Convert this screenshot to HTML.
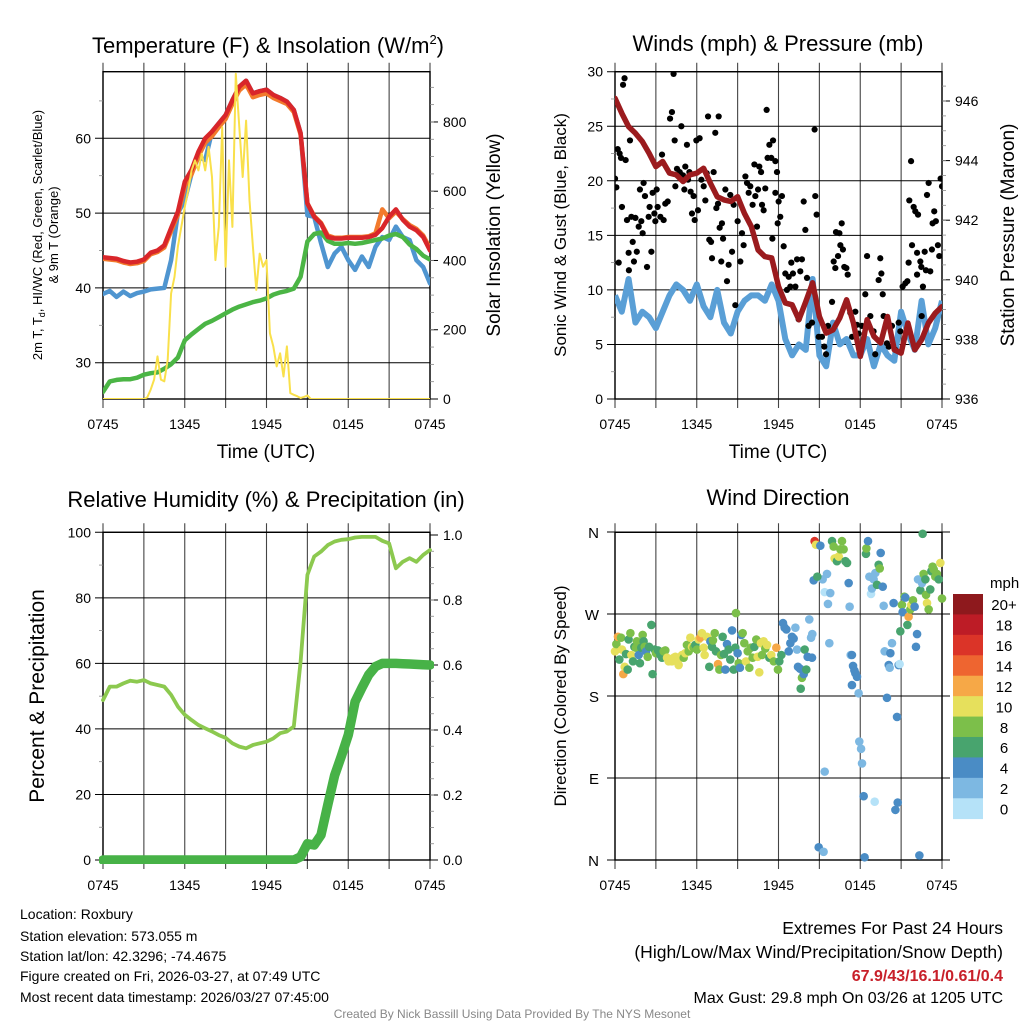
<!DOCTYPE html>
<html><head><meta charset="utf-8"><style>
html,body{margin:0;padding:0;background:#fff;}
svg{display:block;font-family:"Liberation Sans",Arial,sans-serif;}
</style></head><body>
<svg id="root" width="1024" height="1024" viewBox="0 0 1024 1024" xmlns="http://www.w3.org/2000/svg">
<rect width="1024" height="1024" fill="#fff"/>
<defs>
<clipPath id="c1"><rect x="103" y="71.7" width="327" height="327.3"/></clipPath>
<clipPath id="c2"><rect x="615" y="71.7" width="327" height="327.3"/></clipPath>
<clipPath id="c3"><rect x="99" y="528" width="335" height="336"/></clipPath>
<clipPath id="c4"><rect x="609" y="526" width="339" height="340"/></clipPath>
</defs>
<text x="268" y="53" font-size="22" text-anchor="middle">Temperature (F) &amp; Insolation (W/m<tspan font-size="13" dy="-9">2</tspan><tspan dy="9">)</tspan></text>
<text x="778" y="51" font-size="22" text-anchor="middle">Winds (mph) &amp; Pressure (mb)</text>
<text x="266" y="507" font-size="22" text-anchor="middle">Relative Humidity (%) &amp; Precipitation (in)</text>
<text x="778" y="505" font-size="22" text-anchor="middle">Wind Direction</text>

<text x="266" y="458" font-size="19" text-anchor="middle">Time (UTC)</text>
<text x="778" y="458" font-size="19" text-anchor="middle">Time (UTC)</text>
<text transform="translate(42,235) rotate(-90)" font-size="13" text-anchor="middle">2m T, T<tspan font-size="9" dy="3">d</tspan><tspan dy="-3">, HI/WC (Red, Green, Scarlet/Blue)</tspan></text>
<text transform="translate(58,235) rotate(-90)" font-size="13" text-anchor="middle">&amp; 9m T (Orange)</text>
<text transform="translate(500,235) rotate(-90)" font-size="19" text-anchor="middle">Solar Insolation (Yellow)</text>
<text transform="translate(566,235) rotate(-90)" font-size="17" text-anchor="middle">Sonic Wind &amp; Gust (Blue, Black)</text>
<text transform="translate(1014,235) rotate(-90)" font-size="19" text-anchor="middle">Station Pressure (Maroon)</text>
<text transform="translate(44,696) rotate(-90)" font-size="21" text-anchor="middle">Percent &amp; Precipitation</text>
<text transform="translate(566,696) rotate(-90)" font-size="17" text-anchor="middle">Direction (Colored By Speed)</text>

<g font-size="14">
<text x="20" y="919">Location: Roxbury</text>
<text x="20" y="941">Station elevation: 573.055 m</text>
<text x="20" y="961">Station lat/lon: 42.3296; -74.4675</text>
<text x="20" y="981">Figure created on Fri, 2026-03-27, at 07:49 UTC</text>
<text x="20" y="1002">Most recent data timestamp: 2026/03/27 07:45:00</text>
</g>
<g font-size="17.5" text-anchor="end">
<text x="1003" y="934">Extremes For Past 24 Hours</text>
<text x="1003" y="958">(High/Low/Max Wind/Precipitation/Snow Depth)</text>
<text x="1003" y="981" fill="#c8202a" font-weight="bold" font-size="16">67.9/43/16.1/0.61/0.4</text>
<text x="1003" y="1003" font-size="16">Max Gust: 29.8 mph On 03/26 at 1205 UTC</text>
</g>
<text x="512" y="1018" font-size="12" fill="#888" text-anchor="middle">Created By Nick Bassill Using Data Provided By The NYS Mesonet</text>
</svg>
<script>
// ---- data (half-hourly, hours since 0745 UTC) ----
const timeLabels=["0745","1345","1945","0145","0745"];
const temp2m=[44.1,44,43.9,43.6,43.4,43.5,43.8,44.7,45,45.7,48,50.2,54.2,55.8,58.2,60,60.9,62,63.1,65.1,66.9,67.7,66,66.3,66.5,65.8,65.4,64.9,63.8,60.7,51.3,49.5,48.6,46.8,46.6,46.6,46.7,46.7,46.7,46.8,47.1,48,49.5,50.5,49.1,48.2,47.7,46.8,45];
const temp9m=[43.9,43.8,43.7,43.4,43.2,43.3,43.6,44.5,44.8,45.4,47.6,49.8,53.6,55.2,57.6,59.4,60.3,61.5,62.6,64.6,66.4,67.2,65.5,65.8,66,65.4,65,64.6,63.5,60.5,51.3,49.6,48.7,47,46.7,46.7,46.8,46.8,46.8,46.9,47.3,50.5,49.3,50.2,49.2,48.4,47.9,47,45.3];
const windChill=[39.2,39.6,38.8,39.5,38.9,39.3,39.5,39.8,39.9,40,43.7,50,51.7,55.3,57.5,57.1,60.9,62,63.1,65.1,66.9,67.7,66,66.3,66.5,65.8,65.4,64.9,63.8,60.7,49.7,49.5,46,42.8,44.6,45.5,43.7,42.4,44.2,42.8,45.5,46.8,46.4,48.2,46.8,46.4,43.7,42.8,40.6];
const dewpoint=[26.1,27.5,27.7,27.8,27.8,28,28.4,28.6,28.7,29.2,29.8,30.7,33,33.8,34.5,35.2,35.6,36.1,36.6,37.1,37.5,37.8,38.1,38.3,38.6,39.1,39.4,39.6,39.9,41.5,46.2,47.2,47.4,46.3,45.9,45.9,46,45.9,46,46.2,46.4,46.6,47,47.2,46.8,45.8,45.2,44.3,43.8];
// solar, quarter-hourly
const solar=[0,0,0,0,0,0,0,0,0,0,0,0,0,5,27,56,123,56,51,113,305,353,440,497,555,603,660,689,660,708,660,728,641,401,497,785,382,689,497,939,785,641,804,574,440,315,420,382,401,190,152,94,132,65,152,17,12,8,3,6,10,0,0,0,0,0,0,0,0,0,0,0,0,0,0,0,0,0,0,0,0,0,0,0,0,0,0,0,0,0,0,0,0,0,0,0,0];
const pressure=[946.09,945.59,945.14,944.92,944.64,944.25,943.8,943.97,943.58,943.52,943.3,943.52,943.58,943.74,943.24,942.79,942.68,942.63,942.79,942.23,941.79,941,940.78,940.73,939.78,939.22,939.16,938.66,939.27,939.9,938.77,938.21,938.32,938.72,939.33,938.55,937.43,938.66,938.1,937.88,938.77,937.65,937.54,938.55,937.65,937.99,938.55,938.88,939.1];
const windSpeed=[9.5,8,11,7,8,7.5,6.5,8,9.5,10.5,10,9,10.5,8.5,7.5,10,7,6,8,9,9.5,9.5,9,10.5,9,5.5,4,5,4.5,11,4,3,7,5,5.5,4,4,5.5,3,5,4,3.5,8,6,4.5,9,5,6.5,9];
const gustTime=[0,0.1,0.2,0.34,0.44,0.59,0.7,0.78,0.27,0.51,0.88,1,1.1,1.02,1.2,1.3,1.39,1.5,1.6,1.74,1.83,1.93,2.03,2.1,2.2,2.35,2.47,2.54,2.67,2.76,2.89,2.96,3.06,3.13,3.33,3.45,3.57,3.69,3.87,4.04,4.18,4.3,4.38,4.43,4.55,4.75,4.87,4.99,5.09,5.16,5.28,5.36,5.46,5.55,5.65,5.77,5.85,5.97,6.09,6.21,6.34,6.51,6.63,6.73,6.83,6.92,7.05,7.12,7.24,7.36,7.44,7.56,7.61,7.68,7.8,7.85,7.93,8.1,8.22,8.34,8.46,8.59,8.71,8.83,9,9.2,9.32,9.44,9.57,9.69,9.81,9.93,10.1,10.23,10.3,10.42,10.5,10.59,10.72,10.79,10.91,11.03,11.13,11.2,11.33,11.47,11.6,11.77,11.89,11.77,11.55,11.94,12.01,12.13,12.25,12.38,12.5,12.62,12.75,12.87,12.94,13.06,13.24,13.36,13.48,13.6,13.72,13.85,13.97,14.09,14.21,14.46,14.65,14.7,14.8,14.95,15.19,15.36,15.49,15.63,15.93,16.05,16.17,16.22,16.37,16.47,16.54,16.64,16.73,16.83,16.98,17.08,17.27,17.4,17.64,17.76,17.88,18.12,18.37,18.5,18.74,18.98,19.1,19.35,19.47,19.55,19.65,19.72,19.96,20.09,20.33,20.58,20.82,20.94,21.11,21.31,21.46,21.55,21.6,21.73,21.8,21.92,22.04,22.17,22.24,22.17,22.41,22.48,22.6,22.73,22.82,22.9,23.02,23.14,23.26,23.31,23.43,23.55,23.7,23.8,23.9,24,22.51];
const gustSpeed=[20.2,19.4,22.9,22.5,22.1,28.8,29.4,21.9,12.5,17.6,16.4,13.4,23.7,11.8,16.7,14.4,12.6,16.6,13.5,15.8,19.2,16.3,15.2,19.8,18.6,12.1,16.7,17.6,13.5,18.9,17,16.3,19.2,17.6,16.7,22.4,16.4,17.9,18.1,25.7,26.3,29.8,23.7,19.5,21.1,20.8,25,20.5,19.2,21.3,23.3,20.1,20.8,19,17,18.6,16.4,23.7,17.3,23.9,20.1,19.5,18.2,20.7,25.9,14.6,14.4,12.9,20.8,24.4,17.5,17.9,25.9,15.7,12.6,16.1,14.7,19.2,10.8,12.3,18.7,13.5,17.8,8.6,16.3,12.6,15.2,14.1,20.4,19.8,18.9,19.5,17.8,21.5,18.6,15.8,19.2,21.3,20.8,17.8,17.3,19.3,26.5,22.1,23.3,22.1,23.7,21.8,20.8,18.9,14.7,16.1,18.1,16.7,18.6,14,11.5,10,11.2,10.3,12.5,11.5,10.3,12.8,7.3,11.7,12.8,18.1,15.5,11.1,6.7,7,24.7,18.6,16.9,5.7,5.7,4.8,4.1,6.7,8.9,12.6,12,15.3,13.1,15.2,14.1,16.1,13.7,12.1,12,11.4,7.9,5.7,8,6.8,6,6.7,9.6,13.1,7.6,6.2,4.1,10.9,12.9,11.5,9.6,7.6,5.1,4.8,6.7,4.5,7,6.2,10.3,10.6,10.8,12.5,18.2,21.8,14.1,17.6,17.2,11.4,16.9,13.4,12.6,12.1,10.3,13.5,11.8,18.7,19.8,11.7,13.7,16.1,17.2,16.3,14.1,13.1,20.2,19.5,7.6];
const humidity=[48.8,52.9,52.9,53.9,54.7,54.4,54.9,53.9,53.4,52.9,50.4,46.8,44.3,42.7,41.2,40.2,39.2,38.1,37.3,35.6,34.6,34.1,35.1,35.6,36.1,37.1,38.7,39.2,40.7,60.5,87,92.6,94.1,96.1,97.2,97.7,97.9,98.4,98.6,98.6,98.6,97.4,96.6,89,91,92.1,91,93.1,94.6];
const precip=[0,0,0,0,0,0,0,0,0,0,0,0,0,0,0,0,0,0,0,0,0,0,0,0,0,0,0,0,0,0.01,0.05,0.046,0.077,0.17,0.26,0.32,0.385,0.487,0.53,0.57,0.595,0.605,0.605,0.605,0.604,0.603,0.602,0.601,0.6];
const dirTime=[0,0.1,0.22,0.32,0.44,0.51,0.61,0.71,0.81,0.93,1,1.13,1.2,1.32,1.42,1.54,1.61,1.74,1.83,1.93,2.03,2.1,2.18,2.28,2.4,2.5,2.67,2.76,2.91,3.01,3.16,3.33,3.45,3.57,3.69,3.82,3.94,4.06,4.18,4.31,4.43,4.55,4.67,4.8,4.92,5.04,5.16,5.28,5.41,5.53,5.65,5.77,5.9,6.02,6.14,6.26,6.38,6.51,6.58,6.75,6.92,7,7.12,7.19,7.32,7.41,7.56,7.66,7.78,7.9,8,8.1,8.22,8.34,8.46,8.59,8.71,8.83,8.88,9,9.08,9.17,9.27,9.37,9.49,9.61,9.74,9.86,9.98,10.1,10.23,10.37,10.47,10.59,10.71,10.79,10.91,11.03,11.16,11.33,11.47,11.65,11.84,11.96,12.06,12.21,12.33,12.45,12.58,12.75,12.87,12.99,13.11,13.24,13.36,13.43,13.58,13.63,13.72,13.85,13.92,14.04,14.14,14.26,14.39,14.48,14.46,14.58,14.65,14.75,15.07,15.24,15.39,15.56,15.63,15.8,15.73,15.93,16.05,16.12,16.29,16.42,16.54,16.66,16.78,16.91,17.03,17.15,17.22,17.3,17.39,17.47,17.57,17.64,17.76,17.39,17.88,17.93,18.06,18.13,18.25,18.32,18.42,18.45,18.57,18.67,18.79,18.86,18.98,19.11,19.23,19.35,19.43,19.5,19.65,19.72,19.79,19.96,20.09,20.16,20.21,20.33,20.45,20.7,20.82,20.89,20.58,20.75,20.94,21.06,21.11,21.24,21.31,21.46,21.55,21.68,21.75,21.87,21.99,22.09,22.17,22.24,22.34,22.41,22.53,22.58,22.65,22.78,22.83,22.9,23.02,23.14,23.22,23.31,23.39,23.51,23.63,23.76,23.88,24,14.85,14.95,15.31,15.39,19.06];
const dirDeg=[229,237,245,220,244,231,204,212,226,209,242,249,225,218,234,233,240,225,216,233,247,240,234,229,223,234,258,204,231,227,230,225,222,229,230,222,218,220,218,222,223,218,214,222,225,222,227,236,229,244,234,233,236,231,242,244,249,233,225,245,212,240,234,241,249,229,215,209,225,245,226,209,237,231,220,252,209,233,271,227,216,211,247,249,238,218,229,211,233,222,234,242,223,206,238,225,240,232,236,222,225,218,233,209,218,225,260,255,253,229,238,245,243,255,231,212,210,188,200,204,231,209,223,264,244,248,222,307,350,346,345,308,294,314,281,293,238,350,344,331,328,333,341,350,341,328,326,304,278,225,225,213,208,205,201,192,183,130,122,106,70,3,336,342,350,311,292,298,308,315,302,324,320,337,300,279,229,178,214,211,227,238,282,157,214,215,55,63,251,280,272,289,288,258,267,275,280,285,278,234,248,308,5,296,304,358,314,308,291,282,275,297,317,322,319,311,314,308,326,287,311,14,9,97,64,19];
const dirSpeed=[10,8,12,6,8,10,12,10,6,6,6,8,10,6,6,8,8,4,6,6,8,6,8,4,8,6,6,6,6,8,6,6,6,8,8,10,10,10,10,10,10,10,10,10,10,8,10,8,8,10,10,8,6,8,10,12,10,10,10,10,6,4,6,8,8,6,12,8,8,6,6,4,4,6,6,4,6,6,8,4,8,4,4,8,8,10,8,8,8,8,6,8,10,10,10,8,10,8,10,6,10,8,12,8,6,6,4,4,4,4,4,4,4,2,2,4,4,6,8,4,6,6,4,2,2,2,4,4,16,10,4,2,0,2,2,2,2,6,8,10,6,10,8,8,8,6,6,4,2,2,4,4,4,4,4,4,2,2,2,2,4,4,6,8,4,2,0,2,2,2,6,6,8,4,4,2,2,4,4,2,4,2,4,4,4,0,4,4,6,8,4,8,4,6,12,8,10,8,4,4,4,2,4,6,2,6,8,6,8,10,8,6,6,8,8,8,8,6,10,8,6,4,2,2,0];
const speedLevels=["0","2","4","6","8","10","12","14","16","18","20+"];
const speedColors=["#b5e2f8","#7db8e2","#4a8cc5","#48a46e","#7cbf4a","#e6e05c","#f6a847","#ee6530","#db3428","#bd1c26","#8e191d"];
const tempTicks=[30,40,50,60];
const solarTicks=[0,200,400,600,800];
const windTicks=[0,5,10,15,20,25,30];
const presTicks=[936,938,940,942,944,946];
const rhTicks=[0,20,40,60,80,100];
const prTicks=["0.0","0.2","0.4","0.6","0.8","1.0"];
const dirTicks=[0,90,180,270,360];
const dirLabels=["N","E","S","W","N"];

// ---- axes ----
const NS="http://www.w3.org/2000/svg";
const root=document.getElementById('root');
function mk(tag,attrs,parent){const e=document.createElementNS(NS,tag);for(const k in attrs)e.setAttribute(k,attrs[k]);(parent||root).appendChild(e);return e;}
const xL=t=>103+t/24*327, xR=t=>615+t/24*327;
const tY=v=>138.3+(60-v)*7.48, sY=v=>399-v*0.3463;
const wY=v=>399-v*10.91, pY=v=>399-(v-936)*29.8;
const rY=v=>860-v*3.277, qY=v=>860-v*325;
const dY=v=>860-v*(328/360);
function halfPts(arr,fx,fy,step){return arr.map((v,i)=>fx(i*step).toFixed(1)+','+fy(v).toFixed(1)).join(' ');}

function frame(x0,yT,yB,fx,name){
  const g=mk('g',{});
  
  
  for(let h=0;h<=24;h+=3){
    const x=fx(h);
    const ln=mk('line',{x1:x,x2:x,y1:yT-9,y2:yB+9,stroke:'#444','stroke-width':1.1},g);
    
    
  }
  timeLabels.forEach((s,i)=>{
    const t=mk('text',{x:fx(i*6),y:yB+30,'font-size':14,'text-anchor':'middle'},g);
    t.textContent=s;
    
    
  });
  const r=mk('rect',{x:x0,y:yT,width:327,height:yB-yT,fill:'none',stroke:'#000','stroke-width':1.4},g);
  
  
  return g;
}
function hTicks(vals,fy,x0,labels,side,minorVals,grid){
  vals.forEach((v,i)=>{
    const y=fy(v);
    if(side==='left'){
      const l=mk('line',{x1:x0-8,x2:grid?x0+327:x0,y1:y,y2:y,stroke:'#000','stroke-width':1});
      
      
      const t=mk('text',{x:x0-12,y:y+5,'font-size':14,'text-anchor':'end'});
      t.textContent=labels?labels[i]:v;
      
      
    }else{
      const l=mk('line',{x1:x0,x2:x0+8,y1:y,y2:y,stroke:'#000','stroke-width':1});
      
      
      const t=mk('text',{x:x0+13,y:y+5,'font-size':14,'text-anchor':'start'});
      t.textContent=labels?labels[i]:v;
      
      
    }
  });
  (minorVals||[]).forEach(v=>{
    const y=fy(v);
    const l=mk('line',side==='left'?{x1:x0-4,x2:x0,y1:y,y2:y,stroke:'#888','stroke-width':0.8}:{x1:x0,x2:x0+4,y1:y,y2:y,stroke:'#888','stroke-width':0.8});
    
    
  });
}
function range(a,b,s){const r=[];for(let v=a;v<=b+1e-9;v+=s)r.push(+v.toFixed(3));return r;}

// Panel 1
frame(103,71.7,399,xL,'temperature');
hTicks(tempTicks,tY,103,null,'left',[35,45,55,65],true);
hTicks(solarTicks,sY,430,null,'right',range(50,900,50));
const g1=mk('g',{'clip-path':'url(#c1)'});


[[windChill,'#4f95d0',4.5,tY,0.5,'wind-chill-line'],[dewpoint,'#4bb545',4.5,tY,0.5,'dewpoint-line'],[temp9m,'#f27a2c',4.5,tY,0.5,'temp-9m-line'],[temp2m,'#d9262a',4.5,tY,0.5,'temp-2m-line'],[solar,'#f9e04b',2,sY,0.25,'solar-insolation-line']].forEach(s=>{
  const p=mk('polyline',{points:halfPts(s[0],xL,s[3],s[4]),fill:'none',stroke:s[1],'stroke-width':s[2],'stroke-linejoin':'round','stroke-linecap':'round'},g1);
  
  
});

// Panel 2
frame(615,71.7,399,xR,'winds');
hTicks(windTicks,wY,615,null,'left',range(2.5,27.5,5),true);
hTicks(presTicks,pY,942,null,'right',range(936.5,946.5,0.5));
const g2=mk('g',{'clip-path':'url(#c2)'});


const ws=mk('polyline',{points:halfPts(windSpeed,xR,wY,0.5),fill:'none',stroke:'#5a9fd6','stroke-width':6,'stroke-linejoin':'round'},g2);


gustTime.forEach((t,i)=>{
  const c=mk('circle',{cx:xR(t),cy:wY(gustSpeed[i]),r:3.1,fill:'#000'},g2);
  
  
});
const pr=mk('polyline',{points:halfPts(pressure,xR,pY,0.5),fill:'none',stroke:'#9b1b1e','stroke-width':5.5,'stroke-linejoin':'round','stroke-linecap':'round'},g2);



// Panel 3
frame(103,532.3,860,xL,'humidity');
hTicks(rhTicks,rY,103,null,'left',range(10,90,20),true);
hTicks(prTicks.map(Number),qY,430,prTicks,'right',range(0.05,0.95,0.05));
const g3=mk('g',{'clip-path':'url(#c3)'});


const rh=mk('polyline',{points:halfPts(humidity,xL,rY,0.5),fill:'none',stroke:'#8cc94f','stroke-width':3.8,'stroke-linejoin':'round','stroke-linecap':'round'},g3);


const pc=mk('polyline',{points:halfPts(precip,xL,qY,0.5),fill:'none',stroke:'#47b247','stroke-width':9.5,'stroke-linejoin':'round','stroke-linecap':'round'},g3);



// Panel 4
frame(615,532.3,860,xR,'wind-direction');
dirTicks.forEach((d,i)=>{
  const y=dY(d);
  const l=mk('line',{x1:607,x2:950,y1:y,y2:y,stroke:'#000','stroke-width':1});
  
  
  const t=mk('text',{x:599,y:y+6,'font-size':15,'text-anchor':'end'});
  t.textContent=dirLabels[i];
  
  
});
const g4=mk('g',{'clip-path':'url(#c4)'});


dirTime.forEach((t,i)=>{
  const ci=Math.min(10,Math.max(0,Math.round(dirSpeed[i]/2)));
  const c=mk('circle',{cx:xR(t),cy:dY(dirDeg[i]),r:4.3,fill:speedColors[ci]},g4);
  
  
});
// colorbar
const cb=mk('g',{});


const ct=mk('text',{x:990,y:588,'font-size':15},cb);
ct.textContent='mph';


const bh=(818.7-594)/11;
speedLevels.forEach((s,i)=>{
  const k=10-i, y=594+i*bh;
  const r=mk('rect',{x:953,y:y,width:30,height:bh+0.4,fill:speedColors[k]},cb);
  
  
  const t=mk('text',{x:1004,y:y+bh/2+6,'font-size':15,'text-anchor':'middle'},cb);
  t.textContent=speedLevels[k];
  
  
});
</script>
</body></html>
